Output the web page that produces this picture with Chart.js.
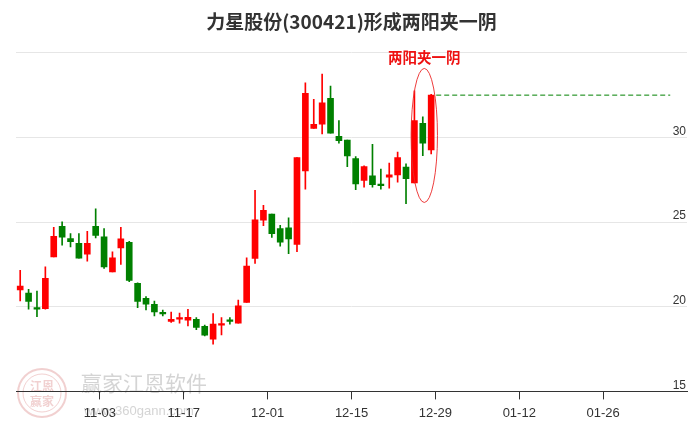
<!DOCTYPE html>
<html>
<head>
<meta charset="utf-8">
<script src="https://cdn.jsdelivr.net/npm/chart.js@4/dist/chart.umd.min.js"></script>
<style>
html,body{margin:0;padding:0;background:#fff;}
#wrap{width:689px;height:427px;position:relative;}
</style>
</head>
<body>
<div id="wrap"><canvas id="c" width="689" height="427"></canvas></div>
<script>
// ---- data ----
const dates = ['10-21','10-22','10-23','10-24','10-27','10-28','10-29','10-30','10-31',
  '11-03','11-04','11-05','11-06','11-07','11-10','11-11','11-12','11-13','11-14',
  '11-17','11-18','11-19','11-20','11-21','11-24','11-25','11-26','11-27','11-28',
  '12-01','12-02','12-03','12-04','12-05','12-08','12-09','12-10','12-11','12-12',
  '12-15','12-16','12-17','12-18','12-19','12-22','12-23','12-24','12-25','12-26','12-29'];
const openP  = [20.99,20.81,19.92,19.89,22.95,24.75,24.02,23.74,23.11,24.75,
                24.13,22.05,23.48,23.81,21.38,20.50,20.15,19.62,19.13,19.26,
                19.20,19.26,18.84,18.09,18.91,19.19,19.03,20.25,22.85,25.11,
                25.48,24.62,24.66,23.68,28.03,30.54,30.78,32.31,30.07,29.85,
                28.75,27.46,27.74,27.25,27.66,27.79,28.25,27.31,30.84,29.26];
const closeP = [21.22,20.32,19.86,21.68,24.16,24.11,23.84,22.87,23.75,24.22,
                22.36,22.89,24.01,21.56,20.31,20.15,19.69,19.58,19.26,19.36,
                19.38,18.78,18.32,18.97,19.01,19.14,20.05,22.40,25.13,25.69,
                24.32,23.81,24.01,28.81,32.60,30.78,32.05,30.25,29.81,28.91,
                27.25,28.28,27.21,27.15,27.79,28.81,27.56,30.99,29.66,32.50];
const highP  = [22.15,21.03,20.93,22.36,24.69,25.01,24.32,24.32,24.46,25.78,
                24.62,23.25,24.69,23.87,21.42,20.60,20.34,19.81,19.69,19.62,
                19.85,19.36,18.91,19.60,19.36,19.36,20.40,22.89,26.87,25.99,
                25.48,24.81,25.25,28.81,33.22,32.25,33.74,33.03,30.99,29.85,
                28.87,28.32,29.60,28.13,28.48,29.13,28.44,32.75,31.22,32.55];
const lowP   = [20.34,19.85,19.42,19.85,22.95,23.64,23.54,22.87,22.69,24.07,
                22.26,22.05,22.50,21.48,19.95,19.81,19.46,19.46,19.07,19.03,
                18.87,18.64,18.28,17.79,18.34,18.97,19.03,20.25,22.56,24.79,
                24.10,23.58,23.13,23.25,26.95,30.54,30.21,30.25,29.66,28.28,
                26.91,27.07,27.07,26.95,27.01,27.36,26.09,27.31,28.93,29.03];
const tickDays   = [9, 19, 29, 39, 49, 59, 69];
const tickLabels = ['11-03','11-17','12-01','12-15','12-29','01-12','01-26'];
const yTicks = [15, 20, 25, 30, 35];
const patternStart = 47, patternEnd = 49;
const patternText = '两阳夹一阴';
const titleText = '力星股份(300421)形成两阳夹一阴';

// ---- build datasets ----
const UP = '#ff0000', DOWN = '#008000';
const candleColors = openP.map((o,i)=> closeP[i] >= o ? UP : DOWN);
const bodies = openP.map((o,i)=>({x:i, y:[o, closeP[i]]}));
const wicks  = openP.map((o,i)=>({x:i, y:[lowP[i], highP[i]]}));
const lastClose = closeP[closeP.length-1];

const ellipsePlugin = {
  id:'pattern',
  afterDatasetsDraw(chart){
    const xs = chart.scales.x, ys = chart.scales.y, ctx = chart.ctx;
    let hi = -Infinity, lo = Infinity;
    for (let i=patternStart;i<=patternEnd;i++){ hi=Math.max(hi,highP[i]); lo=Math.min(lo,openP[i],closeP[i]); }
    const cx = (xs.getPixelForValue(patternStart)+xs.getPixelForValue(patternEnd))/2 + 1.5;
    const rx = (xs.getPixelForValue(patternEnd)-xs.getPixelForValue(patternStart))/2 + 4.8;
    const top = ys.getPixelForValue(hi) - 22.5;
    const bot = ys.getPixelForValue(lo) + 19.5;
    ctx.save();
    ctx.strokeStyle = 'rgba(235,40,40,0.9)';
    ctx.lineWidth = 1;
    ctx.beginPath();
    ctx.ellipse(cx, (top+bot)/2, rx, (bot-top)/2, 0, 0, Math.PI*2);
    ctx.stroke();
    ctx.fillStyle = '#ee1111';
    ctx.font = 'bold 14.5px "Noto Sans CJK SC"';
    ctx.textAlign = 'center';
    ctx.textBaseline = 'middle';
    ctx.fillText(patternText, cx, top - 11);
    ctx.restore();
  }
};

const watermarkPlugin = {
  id:'wm',
  beforeDraw(chart){
    const ctx = chart.ctx;
    ctx.save();
    ctx.fillStyle = '#fff';
    ctx.fillRect(0,0,chart.width,chart.height);
    // stamp logo
    ctx.strokeStyle = 'rgba(215,120,120,0.35)';
    ctx.lineWidth = 2;
    ctx.beginPath(); ctx.arc(42, 393, 24, 0, Math.PI*2); ctx.stroke();
    ctx.lineWidth = 1;
    ctx.beginPath(); ctx.arc(42, 393, 19, 0, Math.PI*2); ctx.stroke();
    ctx.fillStyle = 'rgba(215,120,120,0.35)';
    ctx.font = 'bold 12px "Noto Sans CJK SC"';
    ctx.textAlign = 'center'; ctx.textBaseline = 'middle';
    ctx.fillText('江恩', 42, 386);
    ctx.fillText('赢家', 42, 401);
    // brand text
    ctx.fillStyle = 'rgba(170,170,170,0.5)';
    ctx.font = '21px "Noto Sans CJK SC"';
    ctx.textAlign = 'left';
    ctx.fillText('赢家江恩软件', 81, 383);
    ctx.font = '13px "Liberation Sans", Arial';
    ctx.fillText('www.360gann.com', 84, 411);
    ctx.restore();
  }
};

new Chart(document.getElementById('c'), {
  data:{
    datasets:[
      {type:'bar', data:bodies, backgroundColor:candleColors, barThickness:6, grouped:false, minBarLength:1.5, order:1},
      {type:'bar', data:wicks, backgroundColor:candleColors, barThickness:1, grouped:false, order:2},
      {type:'line', data:[{x:patternEnd+0.6, y:lastClose},{x:77.5, y:lastClose}], borderColor:'#008000', borderWidth:1, borderDash:[5,3], pointRadius:0, order:0}
    ]
  },
  options:{
    responsive:false, animation:false,
    layout:{padding:{left:16, right:2, top:0, bottom:0}},
    plugins:{
      legend:{display:false}, tooltip:{enabled:false},
      title:{display:true, text:titleText, color:'#333', font:{size:19, weight:'bold', family:'"Noto Sans CJK SC"'}, padding:{top:10, bottom:20}}
    },
    scales:{
      x:{type:'linear', min:-0.5, max:79.5, offset:false,
        afterBuildTicks:(s)=>{ s.ticks = tickDays.map(d=>({value:d+0.5})); },
        ticks:{autoSkip:false, maxRotation:0, padding:6, color:'#333',
          font:{size:13, family:'"Liberation Sans Narrow", "Liberation Sans", Arial'},
          callback:(v,i)=>tickLabels[i]},
        grid:{drawOnChartArea:false, drawTicks:true, tickLength:8, color:'#333', offset:false},
        border:{display:true, color:'#333', width:1}
      },
      y:{position:'right', min:15, max:35,
        afterBuildTicks:(s)=>{ s.ticks = yTicks.map(v=>({value:v})); },
        ticks:{mirror:true, padding:-1, labelOffset:-6, color:'#333',
          font:{size:12, family:'"Liberation Sans", Arial'},
          callback:(v)=> v===35 ? '' : String(v)},
        grid:{color:'#e6e6e6', drawTicks:false},
        border:{display:false}
      }
    }
  },
  plugins:[watermarkPlugin, ellipsePlugin]
});
</script>
</body>
</html>
